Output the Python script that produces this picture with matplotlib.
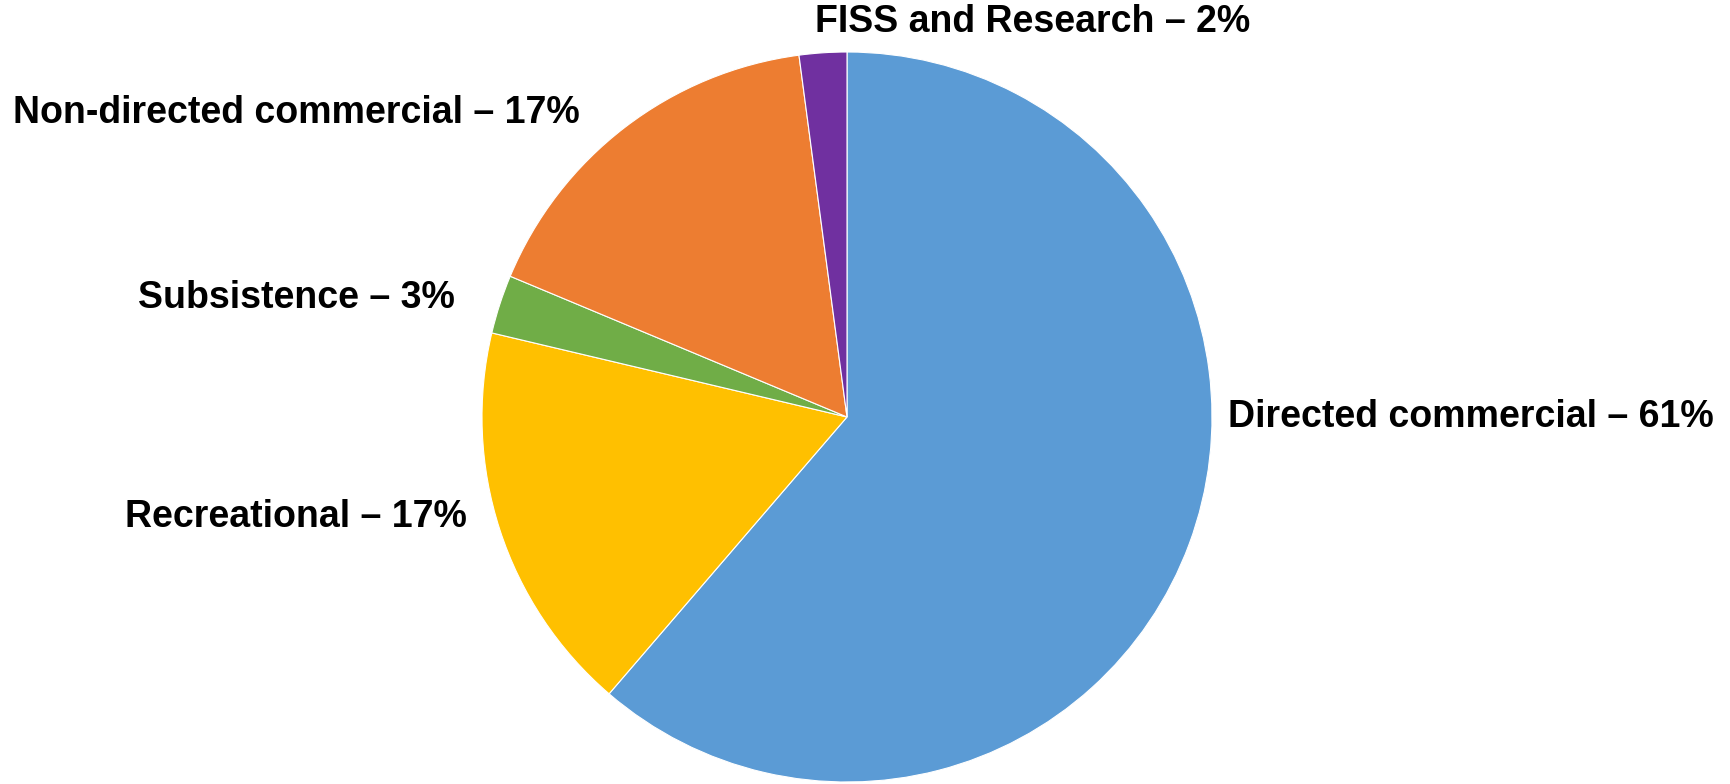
import matplotlib
matplotlib.use('Agg')
import matplotlib.pyplot as plt

# 数据
categories = ['Directed commercial', 'Recreational', 'Subsistence',
              'Non-directed commercial', 'FISS and Research']
shares = [61.3, 17.4, 2.6, 16.6, 2.1]   # 从图中估计的扇区大小
pct_labels = [61, 17, 3, 17, 2]         # 标签上显示的百分比
colors = ['#5B9BD5', '#FFC000', '#70AD47', '#ED7D31', '#7030A0']

# 标签位置 (像素坐标, 左对齐)
label_pos = [(1228, 417), (125, 517), (138, 298), (13, 113), (815, 22)]

W, H = 1731, 784
fig = plt.figure(figsize=(W / 100, H / 100), dpi=100)
ax = fig.add_axes([0, 0, 1, 1])

ax.pie(shares, colors=colors, startangle=90, counterclock=False,
       center=(847, H - 417), radius=365, frame=True,
       wedgeprops=dict(edgecolor='white', linewidth=0.8))
ax.set_xlim(0, W)
ax.set_ylim(0, H)
ax.set_aspect('equal')
ax.axis('off')

for name, v, (x, y) in zip(categories, pct_labels, label_pos):
    ax.text(x, H - y, f'{name} – {v}%', ha='left', va='center',
            fontsize=27, fontweight='bold', family='Liberation Sans',
            color='black')

fig.savefig('out.png', dpi=100)
